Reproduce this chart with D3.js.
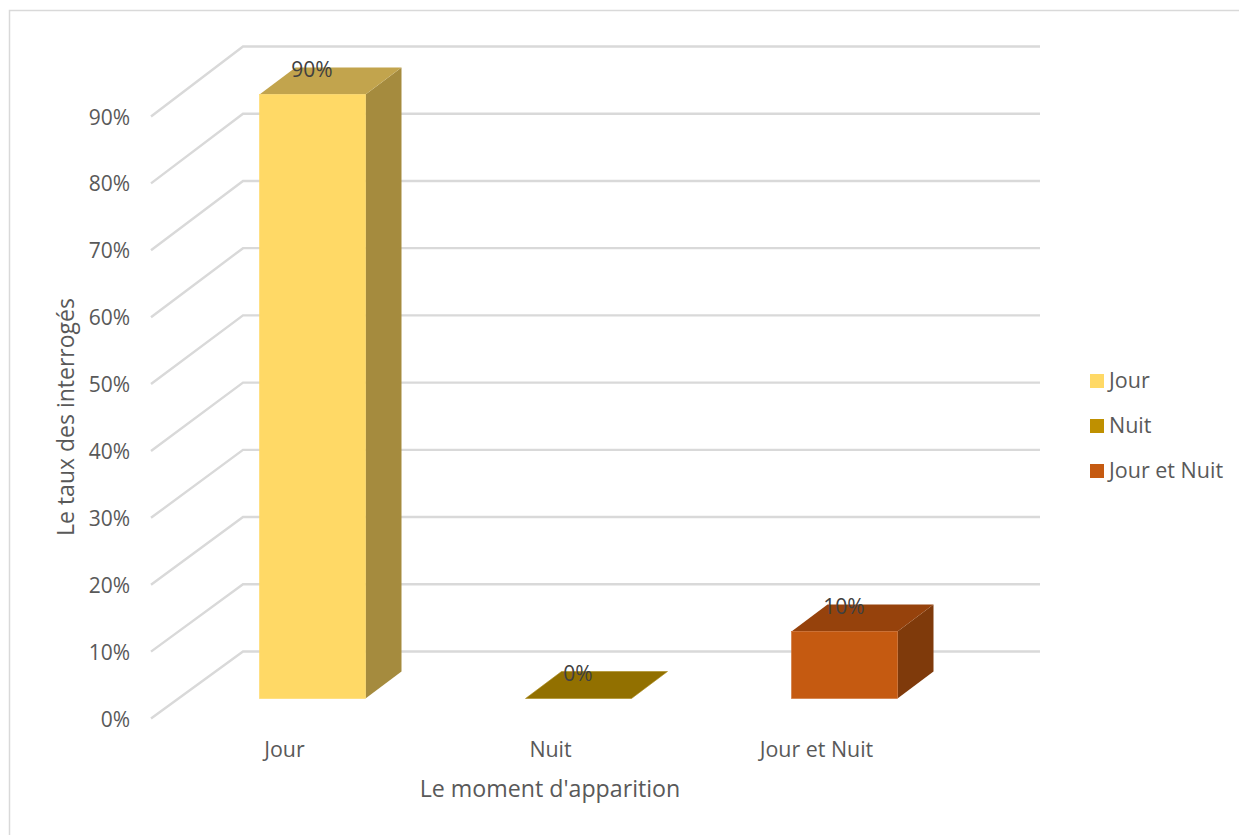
<!DOCTYPE html>
<html><head><meta charset="utf-8">
<script src="https://cdn.jsdelivr.net/npm/d3@7/dist/d3.min.js"></script>
<style>html,body{margin:0;padding:0;background:#fff}svg{display:block}text{font-family:"Open Sans",sans-serif}</style>
</head><body><div id="c"></div>
<script>
const categories = ["Jour","Nuit","Jour et Nuit"];
const values = [0.9,0,0.1];
const valueLabels = ["90%","0%","10%"];
const yTicks = [0,0.1,0.2,0.3,0.4,0.5,0.6,0.7,0.8,0.9];
const frontColors = ["#FFD966","#BF9000","#C55A11"];
const topColors = ["#C2A44D","#927000","#96420C"];
const sideColors = ["#A58B3E","#7F6000","#7F3A0B"];
const edgeColors = ["#FFD966","#A98A1A","#CF7033"];
const xTitle = "Le moment d'apparition";
const yTitle = "Le taux des interrogés";

const W=1239,H=835, dx=36, dy=27;
const svg=d3.select("#c").append("svg").attr("width",W).attr("height",H);
const fmt=d3.format(".0%");
const x=d3.scaleBand().domain(categories).range([259.5,897.5]).paddingInner(160/266).paddingOuter(0);
const yFront=d3.scaleLinear().domain([0,0.9]).range([718.5,116.5]);
const yBack=d3.scaleLinear().domain([0,0.9]).range([651.5,46.5]);
const yBar=d3.scaleLinear().domain([0,0.9]).range([698.5,94.5]);
const leftX=151, wallX=243, rightX=1040;

// frame
svg.append("path").attr("d",`M${W},10.5H9.5V${H}`).attr("fill","none").attr("stroke","#d9d9d9").attr("stroke-width",1.5);

// gridlines
const grid=svg.append("g").attr("fill","none").attr("stroke","#d9d9d9").attr("stroke-width",2.4);
grid.selectAll("path").data(yTicks).join("path")
  .attr("d",d=>`M${leftX},${yFront(d)}L${wallX},${yBack(d)}H${rightX}`);

// value axis
const yAxis=svg.append("g").attr("transform",`translate(130,0.8)`)
  .call(d3.axisLeft(yFront).tickValues(yTicks).tickFormat(fmt).tickSize(0).tickPadding(0));
yAxis.select(".domain").remove();
yAxis.selectAll("text").attr("font-size",21).attr("fill","#595959").attr("font-family",'"Open Sans",sans-serif').attr("dy","0.32em");

// bars
const bars=svg.append("g").selectAll("g").data(categories).join("g");
const b0=yBar(0);
bars.append("path").attr("fill",(d,i)=>sideColors[i])
  .attr("d",(d,i)=>{const r=x(d)+x.bandwidth(),t=yBar(values[i]);return `M${r},${t}l${dx},${-dy}V${b0-dy}L${r},${b0}Z`;});
bars.append("path").attr("fill",(d,i)=>topColors[i]).attr("stroke",(d,i)=>values[i]===0?edgeColors[i]:"none").attr("stroke-width",.6)
  .attr("d",(d,i)=>{const l=x(d),r=l+x.bandwidth(),t=yBar(values[i]);return `M${l},${t}L${r},${t}l${dx},${-dy}H${l+dx}Z`;});
bars.filter((d,i)=>values[i]>0).append("rect").attr("fill",d=>frontColors[categories.indexOf(d)])
  .attr("stroke",d=>edgeColors[categories.indexOf(d)]).attr("stroke-width",.6)
  .attr("x",d=>x(d)).attr("width",x.bandwidth())
  .attr("y",d=>yBar(values[categories.indexOf(d)])).attr("height",d=>b0-yBar(values[categories.indexOf(d)]));

// data labels
svg.append("g").selectAll("text").data(categories).join("text")
  .attr("x",d=>x(d)+x.bandwidth()/2-0.5).attr("y",(d,i)=>yBar(values[i])-25+7.5)
  .attr("text-anchor","middle").attr("font-size",21).attr("fill","#404040")
  .text((d,i)=>valueLabels[i]);

// category labels
svg.append("g").selectAll("text").data(categories).join("text")
  .attr("x",d=>x(d)+x.bandwidth()/2-28).attr("y",757)
  .attr("text-anchor","middle").attr("font-size",21.4).attr("fill","#595959").text(d=>d);

// titles
svg.append("text").attr("x",550).attr("y",797).attr("text-anchor","middle").attr("font-size",23.2).attr("fill","#595959").text(xTitle);
svg.append("text").attr("transform","translate(74,417) rotate(-90)").attr("text-anchor","middle").attr("font-size",23).attr("fill","#595959").text(yTitle);

// legend
const leg=svg.append("g").selectAll("g").data(categories).join("g").attr("transform",(d,i)=>`translate(1090,${374+45*i})`);
leg.append("rect").attr("width",14).attr("height",14).attr("fill",(d,i)=>frontColors[i]);
leg.append("text").attr("x",19).attr("y",13.5).attr("font-size",21.5).attr("fill","#595959").text(d=>d);
</script></body></html>
